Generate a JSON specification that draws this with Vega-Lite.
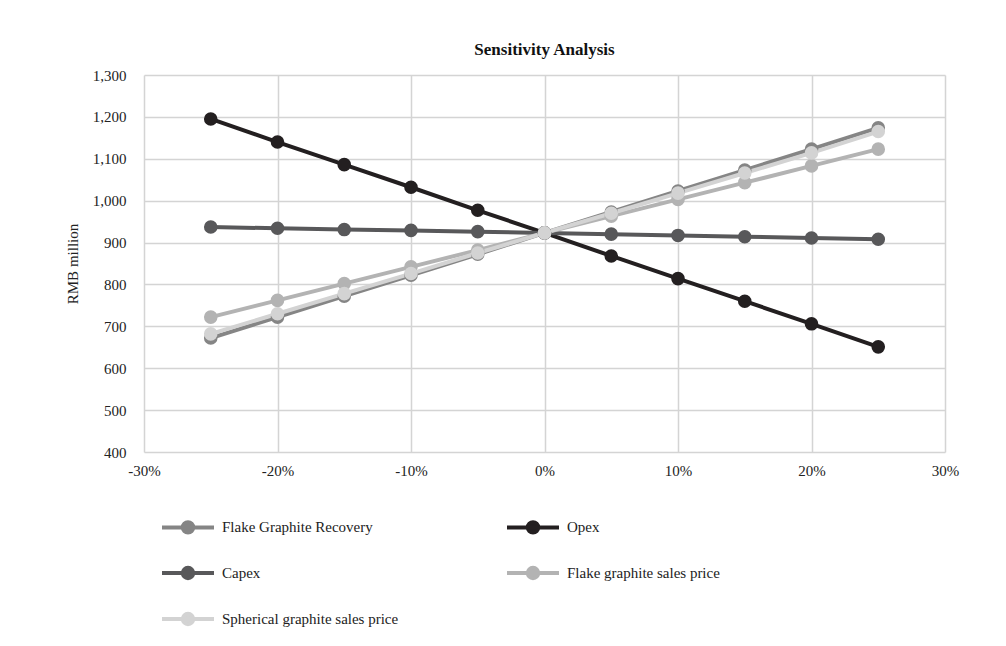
{
  "$schema": "https://vega.github.io/schema/vega-lite/v6.json",
  "width": 801,
  "height": 377,
  "autosize": {"type": "none"},
  "padding": {"left": 144, "top": 75, "right": 61, "bottom": 194},
  "background": "white",
  "title": {"text": "Sensitivity Analysis", "font": "Liberation Serif", "fontSize": 17, "fontWeight": "bold", "color": "#111", "anchor": "middle", "offset": 9},
  "config": {
    "view": {"stroke": null},
    "font": "Liberation Serif",
    "axis": {"labelFont": "Liberation Serif", "labelFontSize": 15, "labelColor": "#222", "titleFont": "Liberation Serif", "titleFontSize": 15, "titleFontWeight": "normal", "titleColor": "#222", "domain": false, "ticks": false, "gridColor": "#d4d4d4", "gridWidth": 1.5, "labelFlush": false, "labelOverlap": false}
  },
  "data": {"values": [
    {"s": "Flake Graphite Recovery", "x": -25, "v": 672}, {"s": "Flake Graphite Recovery", "x": -20, "v": 722}, {"s": "Flake Graphite Recovery", "x": -15, "v": 772}, {"s": "Flake Graphite Recovery", "x": -10, "v": 822}, {"s": "Flake Graphite Recovery", "x": -5, "v": 872}, {"s": "Flake Graphite Recovery", "x": 0, "v": 923}, {"s": "Flake Graphite Recovery", "x": 5, "v": 973}, {"s": "Flake Graphite Recovery", "x": 10, "v": 1023}, {"s": "Flake Graphite Recovery", "x": 15, "v": 1073}, {"s": "Flake Graphite Recovery", "x": 20, "v": 1123}, {"s": "Flake Graphite Recovery", "x": 25, "v": 1174},
    {"s": "Opex", "x": -25, "v": 1195}, {"s": "Opex", "x": -20, "v": 1140}, {"s": "Opex", "x": -15, "v": 1086}, {"s": "Opex", "x": -10, "v": 1032}, {"s": "Opex", "x": -5, "v": 977}, {"s": "Opex", "x": 0, "v": 923}, {"s": "Opex", "x": 5, "v": 868}, {"s": "Opex", "x": 10, "v": 814}, {"s": "Opex", "x": 15, "v": 760}, {"s": "Opex", "x": 20, "v": 706}, {"s": "Opex", "x": 25, "v": 651},
    {"s": "Capex", "x": -25, "v": 937}, {"s": "Capex", "x": -20, "v": 934}, {"s": "Capex", "x": -15, "v": 931}, {"s": "Capex", "x": -10, "v": 929}, {"s": "Capex", "x": -5, "v": 926}, {"s": "Capex", "x": 0, "v": 923}, {"s": "Capex", "x": 5, "v": 920}, {"s": "Capex", "x": 10, "v": 917}, {"s": "Capex", "x": 15, "v": 914}, {"s": "Capex", "x": 20, "v": 911}, {"s": "Capex", "x": 25, "v": 908},
    {"s": "Flake graphite sales price", "x": -25, "v": 722}, {"s": "Flake graphite sales price", "x": -20, "v": 762}, {"s": "Flake graphite sales price", "x": -15, "v": 802}, {"s": "Flake graphite sales price", "x": -10, "v": 842}, {"s": "Flake graphite sales price", "x": -5, "v": 882}, {"s": "Flake graphite sales price", "x": 0, "v": 923}, {"s": "Flake graphite sales price", "x": 5, "v": 963}, {"s": "Flake graphite sales price", "x": 10, "v": 1003}, {"s": "Flake graphite sales price", "x": 15, "v": 1043}, {"s": "Flake graphite sales price", "x": 20, "v": 1083}, {"s": "Flake graphite sales price", "x": 25, "v": 1123},
    {"s": "Spherical graphite sales price", "x": -25, "v": 682}, {"s": "Spherical graphite sales price", "x": -20, "v": 730}, {"s": "Spherical graphite sales price", "x": -15, "v": 778}, {"s": "Spherical graphite sales price", "x": -10, "v": 826}, {"s": "Spherical graphite sales price", "x": -5, "v": 875}, {"s": "Spherical graphite sales price", "x": 0, "v": 923}, {"s": "Spherical graphite sales price", "x": 5, "v": 970}, {"s": "Spherical graphite sales price", "x": 10, "v": 1018}, {"s": "Spherical graphite sales price", "x": 15, "v": 1066}, {"s": "Spherical graphite sales price", "x": 20, "v": 1114}, {"s": "Spherical graphite sales price", "x": 25, "v": 1165}
  ]},
  "encoding": {
    "x": {"field": "x", "type": "quantitative", "scale": {"domain": [-30, 30], "nice": false}, "axis": {"title": null, "values": [-30, -20, -10, 0, 10, 20, 30], "labelExpr": "datum.value + '%'", "labelPadding": 11, "grid": true}},
    "y": {"field": "v", "type": "quantitative", "scale": {"domain": [400, 1300], "nice": false, "zero": false}, "axis": {"title": "RMB million", "values": [400, 500, 600, 700, 800, 900, 1000, 1100, 1200, 1300], "format": ",d", "labelPadding": 18, "titlePadding": 12, "grid": true}},
    "color": {
      "field": "s", "type": "nominal",
      "scale": {"domain": ["Flake Graphite Recovery", "Opex", "Capex", "Flake graphite sales price", "Spherical graphite sales price"], "range": ["#858585", "#231f20", "#58585a", "#b3b3b3", "#d3d3d3"]},
      "legend": {
        "title": null, "orient": "none", "legendX": 16, "legendY": 437, "direction": "horizontal", "columns": 2,
        "columnPadding": 100, "rowPadding": 17,
        "symbolType": "M-1,0H3M0.6,0A0.4,0.4 0 1,1 1.4,0A0.4,0.4 0 1,1 0.6,0Z",
        "symbolSize": 676, "symbolStrokeWidth": 4, "symbolOpacity": 1,
        "labelFont": "Liberation Serif", "labelFontSize": 15, "labelColor": "#222", "labelOffset": 32, "labelLimit": 300,
        "encode": {"symbols": {"update": {"fill": {"scale": "color", "field": "value"}, "stroke": {"scale": "color", "field": "value"}}}}
      }
    }
  },
  "layer": [
    {"mark": {"type": "line", "strokeWidth": 4}},
    {"mark": {"type": "point", "filled": true, "size": 185, "opacity": 1}}
  ]
}
